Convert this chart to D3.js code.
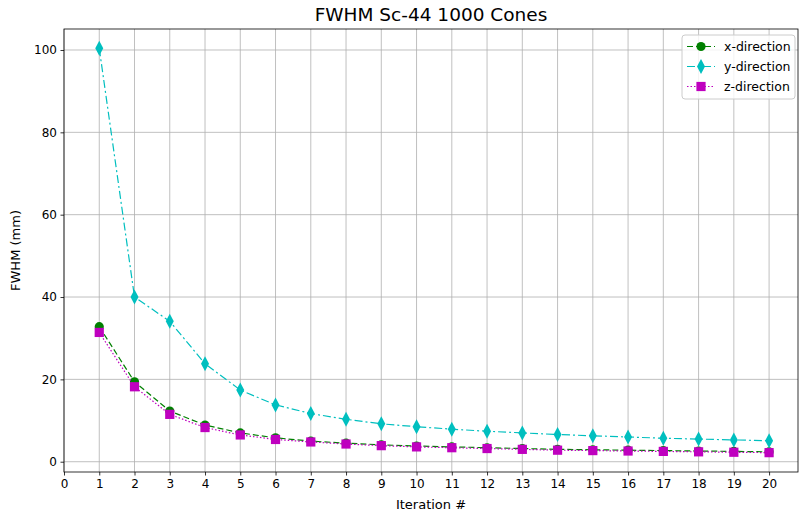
<!DOCTYPE html>
<html>
<head>
<meta charset="utf-8">
<script src="https://cdn.jsdelivr.net/npm/d3@7"></script>
<style>
  body { margin: 0; background: #fff; }
  svg { display: block; font-family: "DejaVu Sans", sans-serif; }
</style>
</head>
<body>
<svg id="chart" width="799" height="514"></svg>
<script>
// Iteration numbers and FWHM per direction (mm)
const iterations = d3.range(1, 21);
const xDirection = [32.8, 19.4, 12.3, 8.9, 7.0, 5.8, 5.0, 4.5, 4.1, 3.8, 3.6, 3.4, 3.2, 3.0, 2.9, 2.8, 2.7, 2.6, 2.5, 2.4];
const yDirection = [100.4, 40.0, 34.1, 23.8, 17.4, 13.8, 11.7, 10.3, 9.2, 8.5, 7.9, 7.4, 7.0, 6.6, 6.3, 6.0, 5.7, 5.5, 5.3, 5.1];
const zDirection = [31.4, 18.2, 11.5, 8.3, 6.5, 5.4, 4.8, 4.3, 3.9, 3.6, 3.4, 3.2, 3.0, 2.8, 2.7, 2.6, 2.5, 2.4, 2.3, 2.2];
const xTicks = d3.range(0, 21);
const yTicks = [0, 20, 40, 60, 80, 100];

const series = [
  { name: "x-direction", values: xDirection, color: "#008000", dash: "6,3", marker: "circle" },
  { name: "y-direction", values: yDirection, color: "#00bfbf", dash: "8,3,2,3", marker: "thin_diamond" },
  { name: "z-direction", values: zDirection, color: "#bf00bf", dash: "1.5,2", marker: "square" }
];

const svg = d3.select("#chart");
const plotL = 64, plotR = 798, plotT = 29, plotB = 472;

const x = d3.scaleLinear().domain([0, 20.82]).range([plotL, plotR]);
const y = d3.scaleLinear().domain([-2.5, 105.1]).range([plotB, plotT]);

// grid
const grid = svg.append("g");
grid.selectAll(".gx").data(xTicks).join("line")
  .attr("x1", d => x(d)).attr("x2", d => x(d)).attr("y1", plotT).attr("y2", plotB)
  .attr("stroke", "#b0b0b0").attr("stroke-width", 0.8);
grid.selectAll(".gy").data(yTicks).join("line")
  .attr("x1", plotL).attr("x2", plotR).attr("y1", d => y(d)).attr("y2", d => y(d))
  .attr("stroke", "#b0b0b0").attr("stroke-width", 0.8);

// axes
const xAxis = d3.axisBottom(x).tickValues(xTicks).tickSize(3.5).tickPadding(3.5).tickFormat(d3.format("d"));
const yAxis = d3.axisLeft(y).tickValues(yTicks).tickSize(3.5).tickPadding(3.5).tickFormat(d3.format("d"));
const gx = svg.append("g").attr("transform", `translate(0,${plotB})`).call(xAxis);
const gy = svg.append("g").attr("transform", `translate(${plotL},0)`).call(yAxis);
[gx, gy].forEach(g => {
  g.select(".domain").remove();
  g.selectAll("text").attr("font-size", 12).attr("fill", "#000").attr("font-family", "DejaVu Sans");
  g.selectAll("line").attr("stroke", "#000").attr("stroke-width", 0.8);
});

// lines and markers
const symbolPath = (type) => {
  if (type === "circle") return d3.symbol(d3.symbolCircle, 66)();
  if (type === "square") return d3.symbol(d3.symbolSquare, 85)();
  return "M0,-7.5L4,0L0,7.5L-4,0Z";
};

series.forEach(s => {
  const line = d3.line().x((d, i) => x(iterations[i])).y(d => y(d));
  svg.append("path").datum(s.values)
    .attr("d", line).attr("fill", "none")
    .attr("stroke", s.color).attr("stroke-width", 1.2)
    .attr("stroke-dasharray", s.dash);
  svg.append("g").selectAll("path").data(s.values).join("path")
    .attr("transform", (d, i) => `translate(${x(iterations[i])},${y(d)})`)
    .attr("d", symbolPath(s.marker))
    .attr("fill", s.color);
});

// frame
svg.append("rect").attr("x", plotL).attr("y", plotT).attr("width", plotR - plotL).attr("height", plotB - plotT)
  .attr("fill", "none").attr("stroke", "#000").attr("stroke-width", 0.8);

// title and labels
svg.append("text").attr("x", (plotL + plotR) / 2).attr("y", 21).attr("text-anchor", "middle")
  .attr("font-size", 18.5).text("FWHM Sc-44 1000 Cones");
svg.append("text").attr("x", (plotL + plotR) / 2).attr("y", 509).attr("text-anchor", "middle")
  .attr("font-size", 13).text("Iteration #");
svg.append("text").attr("transform", `translate(20,${(plotT + plotB) / 2}) rotate(-90)`).attr("text-anchor", "middle")
  .attr("font-size", 13).text("FWHM (mm)");

// legend
const lg = svg.append("g").attr("transform", "translate(682,35)");
lg.append("rect").attr("x", 0).attr("y", 0).attr("width", 113).attr("height", 64).attr("rx", 3)
  .attr("fill", "#fff").attr("fill-opacity", 0.8).attr("stroke", "#ccc");
series.forEach((s, i) => {
  const cy = 11.5 + i * 20;
  lg.append("line").attr("x1", 5).attr("x2", 33).attr("y1", cy).attr("y2", cy)
    .attr("stroke", s.color).attr("stroke-width", 1.2).attr("stroke-dasharray", s.dash);
  lg.append("path").attr("transform", `translate(19,${cy})`).attr("d", symbolPath(s.marker)).attr("fill", s.color);
  lg.append("text").attr("x", 42).attr("y", cy + 4.5).attr("font-size", 12.5).text(s.name);
});
</script>
</body>
</html>
